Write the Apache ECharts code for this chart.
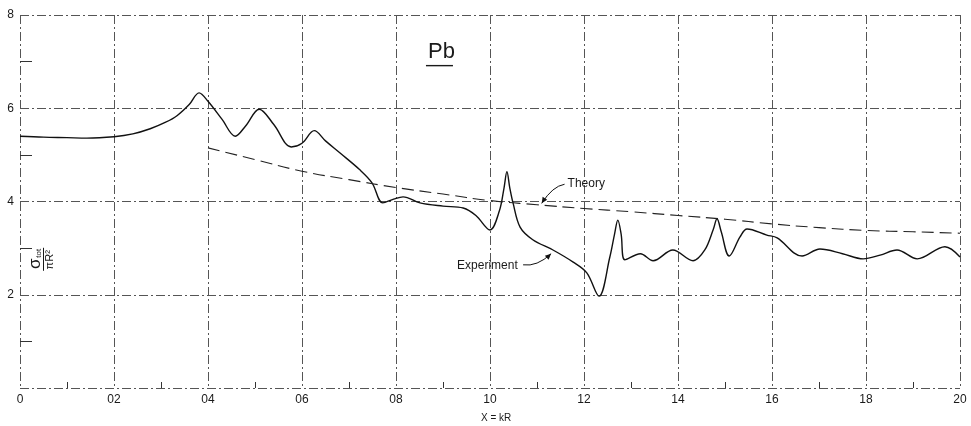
<!DOCTYPE html>
<html>
<head>
<meta charset="utf-8">
<script src="https://cdn.jsdelivr.net/npm/echarts@6/dist/echarts.min.js"></script>
<style>
  html, body { margin: 0; padding: 0; background: #fff; }
  #chart { width: 971px; height: 426px; }
</style>
</head>
<body>
<div id="chart"></div>
<script>
// Total cross section of Pb versus X = kR
const xTickLabels = ['0', '02', '04', '06', '08', '10', '12', '14', '16', '18', '20'];
const yTickLabels = ['', '2', '4', '6', '8'];

const experimentX = [0, 0.5, 1.0, 1.42, 2.0, 2.4, 2.77, 3.1, 3.34, 3.6, 3.81, 4.0, 4.3, 4.58, 4.8, 5.09, 5.4, 5.77, 6.0, 6.26, 6.5, 6.81, 7.23, 7.49, 7.72, 7.95, 8.15, 8.51, 9.0, 9.43, 9.7, 10.0, 10.2, 10.3, 10.36, 10.42, 10.49, 10.64, 10.91, 11.34, 11.77, 12.06, 12.32, 12.55, 12.65, 12.72, 12.79, 12.87, 13.2, 13.47, 13.89, 14.32, 14.57, 14.75, 14.83, 14.92, 15.09, 15.32, 15.47, 15.89, 16.11, 16.64, 17.02, 17.5, 17.94, 18.3, 18.66, 19.09, 19.68, 20.0];
const experimentY = [5.40, 5.38, 5.37, 5.36, 5.39, 5.45, 5.56, 5.70, 5.84, 6.08, 6.33, 6.15, 5.76, 5.40, 5.62, 5.98, 5.65, 5.17, 5.25, 5.52, 5.30, 5.04, 4.68, 4.40, 3.97, 4.05, 4.10, 3.97, 3.90, 3.86, 3.70, 3.39, 3.80, 4.30, 4.64, 4.30, 3.97, 3.45, 3.18, 2.96, 2.70, 2.47, 1.97, 2.81, 3.30, 3.60, 3.30, 2.75, 2.88, 2.73, 2.96, 2.73, 2.96, 3.40, 3.63, 3.35, 2.83, 3.24, 3.41, 3.28, 3.22, 2.83, 2.98, 2.88, 2.77, 2.85, 2.96, 2.77, 3.03, 2.81];

const theoryX = [4, 5, 6, 7, 8, 9, 10, 11, 12, 13, 14, 15, 16, 17, 18, 19, 20];
const theoryY = [5.15, 4.90, 4.65, 4.47, 4.30, 4.16, 4.02, 3.93, 3.85, 3.78, 3.70, 3.62, 3.52, 3.44, 3.38, 3.35, 3.32];

const FONT = "'Liberation Sans', Arial, sans-serif";
const INK = '#1a1a1a';
const gridLine = { color: '#555', width: 1, type: [9, 3, 2, 3] };

const chart = echarts.init(document.getElementById('chart'));

chart.setOption({
  animation: false,
  backgroundColor: '#fff',
  grid: { left: 20, right: 11, top: 15, bottom: 38, containLabel: false },
  xAxis: {
    type: 'value', min: 0, max: 20, interval: 2,
    axisLine: { show: false },
    axisTick: { show: false, inside: true },
    minorTick: { show: true, splitNumber: 2, length: 6, lineStyle: { color: '#333', width: 1 } },
    splitLine: { show: true, lineStyle: gridLine },
    axisLabel: {
      margin: 6, color: INK, fontFamily: FONT, fontSize: 12,
      formatter: (v) => xTickLabels[Math.round(v / 2)]
    }
  },
  yAxis: {
    type: 'value', min: 0, max: 8, interval: 2,
    axisLine: { show: false },
    axisTick: { show: false, inside: true },
    minorTick: { show: true, splitNumber: 2, length: 12, lineStyle: { color: '#333', width: 1 } },
    splitLine: { show: true, lineStyle: gridLine },
    axisLabel: {
      margin: 6, color: INK, fontFamily: FONT, fontSize: 12,
      formatter: (v) => yTickLabels[Math.round(v / 2)]
    }
  },
  series: [
    {
      name: 'Experiment', type: 'line', smooth: 0.35, symbol: 'none',
      lineStyle: { color: '#111', width: 1.4 },
      data: experimentX.map((x, i) => [x, experimentY[i]])
    },
    {
      name: 'Theory', type: 'line', smooth: true, symbol: 'none',
      lineStyle: { color: '#222', width: 1.1, type: [12, 6] },
      data: theoryX.map((x, i) => [x, theoryY[i]])
    }
  ]
});

// Annotations placed in data coordinates
function px(x, y) { return chart.convertToPixel({ gridIndex: 0 }, [x, y]); }

function arrowHead(tip, from, size) {
  const dx = tip[0] - from[0], dy = tip[1] - from[1];
  const len = Math.hypot(dx, dy) || 1;
  const ux = dx / len, uy = dy / len;
  const bx = tip[0] - ux * size, by = tip[1] - uy * size;
  const w = size * 0.45;
  return {
    type: 'polygon',
    shape: { points: [tip, [bx - uy * w, by + ux * w], [bx + uy * w, by - ux * w]] },
    style: { fill: '#111' }
  };
}

const theoryTxt = px(11.65, 4.37);
const theoryStart = [theoryTxt[0] - 3, theoryTxt[1] + 0];
const theoryTip = px(11.1, 3.96);
const theoryCtrl = [theoryStart[0] - 12, theoryStart[1] + 2];

const expTxt = px(9.3, 2.62);
const expStart = [expTxt[0] + 66, expTxt[1] - 1];
const expTip = px(11.3, 2.88);
const expCtrl = [expStart[0] + 14, expStart[1] + 2];

const pbPos = px(8.68, 7.15);
const yTitle = px(0.5, 2.75);
const xTitle = px(10, 0);

chart.setOption({
  graphic: [
    {
      type: 'text', left: pbPos[0], top: pbPos[1] - 14,
      style: { text: 'Pb', font: '22px ' + FONT, fill: INK }
    },
    {
      type: 'line',
      shape: { x1: pbPos[0] - 2, y1: pbPos[1] + 11, x2: pbPos[0] + 25, y2: pbPos[1] + 11 },
      style: { stroke: INK, lineWidth: 1.4 }
    },
    {
      type: 'text', left: theoryTxt[0], top: theoryTxt[1] - 7,
      style: { text: 'Theory', font: '12px ' + FONT, fill: INK }
    },
    {
      type: 'bezierCurve',
      shape: { x1: theoryStart[0], y1: theoryStart[1], cpx1: theoryCtrl[0], cpy1: theoryCtrl[1], x2: theoryTip[0], y2: theoryTip[1] },
      style: { stroke: '#111', lineWidth: 1, fill: null }
    },
    arrowHead(theoryTip, theoryCtrl, 6),
    {
      type: 'text', left: expTxt[0], top: expTxt[1] - 6,
      style: { text: 'Experiment', font: '12px ' + FONT, fill: INK }
    },
    {
      type: 'bezierCurve',
      shape: { x1: expStart[0], y1: expStart[1], cpx1: expCtrl[0], cpy1: expCtrl[1], x2: expTip[0], y2: expTip[1] },
      style: { stroke: '#111', lineWidth: 1, fill: null }
    },
    arrowHead(expTip, expCtrl, 6),
    {
      type: 'group', x: yTitle[0], y: yTitle[1], rotation: Math.PI / 2,
      children: [
        { type: 'text', style: { text: 'σ', font: '17px ' + FONT, fill: INK, align: 'center', verticalAlign: 'bottom' }, x: -4, y: 0 },
        { type: 'text', style: { text: 'tot', font: '8px ' + FONT, fill: INK, align: 'left', verticalAlign: 'bottom' }, x: 2, y: -1 },
        { type: 'line', shape: { x1: -11, y1: 0, x2: 12, y2: 0 }, style: { stroke: INK, lineWidth: 1 } },
        { type: 'text', style: { text: 'πR²', font: '11px ' + FONT, fill: INK, align: 'center', verticalAlign: 'top' }, x: 0, y: 1 }
      ]
    },
    {
      type: 'text', left: xTitle[0] - 9, top: xTitle[1] + 25,
      style: { text: 'X = kR', font: '10px ' + FONT, fill: INK }
    }
  ]
});
</script>
</body>
</html>
